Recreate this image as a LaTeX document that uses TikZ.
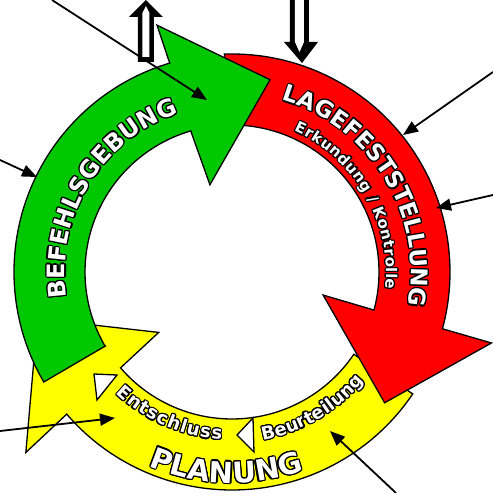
\documentclass[tikz,border=0pt]{standalone}
\usepackage{fontspec}
\newfontfamily\dvs{DejaVu Sans}
\usepackage{contour}
\contourlength{1.15pt}
\usetikzlibrary{decorations.text,arrows.meta}
\definecolor{rgreen}{RGB}{0,200,0}
\definecolor{rred}{RGB}{255,0,0}
\definecolor{ryellow}{RGB}{255,255,0}
\newcommand\outl[1]{\contour{black}{#1}}
\newcommand\txtbefehl{\dvs\bfseries\fontsize{24}{24}\selectfont}
\newcommand\txtlage{\dvs\bfseries\fontsize{23}{23}\selectfont}
\newcommand\txtplan{\dvs\bfseries\fontsize{29}{29}\selectfont}
\newcommand\txtmid{\dvs\bfseries\fontsize{18}{18}\selectfont}
\newcommand\txtsmall{\dvs\bfseries\fontsize{15}{15}\selectfont}
\newcommand\arctext[5]{\path[decorate,decoration={text effects along path,text={#1},
  text effects/.cd,fit text to path,character command=\outl,
  characters={text along path,text=white,font=#2}}]
  (#3:#5) arc[start angle=#3,end angle=#4,radius=#5];}
\begin{document}
\begin{tikzpicture}[x=1pt,y=1pt,
  band/.style={draw=black,line width=1.3pt,line join=miter},
  tri/.style={draw=black,fill=white,line width=1.3pt},
  ext/.style={line width=1.8pt,-{Triangle[length=15pt,width=12pt]}},
  hollowout/.style={fill=black},
  hollowin/.style={fill=white}]
\useasboundingbox (-232,-221) rectangle (261,272);
% yellow
\path[band,fill=ryellow] (-34:147) -- (-34:218) arc[start angle=-34,end angle=-139.3,radius=218]
  -- (221.2:274) -- (193.5:200) -- (219.5:95) -- (220.7:147)
  arc[start angle=220.7,end angle=326,radius=147] -- cycle;
% red
\path[band,fill=rred] (92:147) -- (92:218) arc[start angle=92,end angle=-15.1,radius=218]
  -- (-15.3:269) -- (-40.6:201) -- (-14.2:94) -- (-15:147)
  arc[start angle=-15,end angle=92,radius=147] -- cycle;
% green
\path[band,fill=rgreen] (210.3:146) -- (210.3:218) arc[start angle=210.3,end angle=106.6,radius=218]
  -- (106.9:258) -- (78.8:196) -- (104.2:90) -- (106.3:147)
  arc[start angle=106.3,end angle=210.3,radius=147] -- cycle;
% small white triangles
\path[tri] (-138,-102) -- (-115,-103) -- (-135,-128) -- cycle;
\path[tri] (5,-163) -- (21,-146) -- (22,-180) -- cycle;
% texts
\arctext{BEFEHLSGEBUNG}{\txtbefehl}{188.7}{108.6}{167}
\arctext{LAGEFESTSTELLUNG}{\txtlage}{73.8}{-10.8}{179}
\arctext{Erkundung / Kontrolle}{\txtsmall}{66.3}{-6.3}{154}
\arctext{PLANUNG}{\txtplan}{-113.3}{-70.1}{211}
\arctext{Entschluss}{\txtmid}{-133.7}{-93.5}{168}
\arctext{Beurteilung}{\txtmid}{-79.6}{-39.5}{171}
% external arrows
\coordinate (a1s) at (-180,272); \coordinate (a1e) at (-25,172);
\coordinate (a2s) at (-232,112); \coordinate (a2e) at (-195,95);
\coordinate (a3s) at (261,200);  \coordinate (a3e) at (171,137);
\coordinate (a4s) at (261,77);   \coordinate (a4e) at (204,64);
\coordinate (a5s) at (-232,-159); \coordinate (a5e) at (-117,-146);
\coordinate (a6s) at (164,-221); \coordinate (a6e) at (98,-159);
\draw[ext] (a1s) -- (a1e);
\draw[ext] (a2s) -- (a2e);
\draw[ext] (a3s) -- (a3e);
\draw[ext] (a4s) -- (a4e);
\draw[ext] (a5s) -- (a5e);
\draw[ext] (a6s) -- (a6e);
% hollow arrows
\path[hollowout] (-94,210) -- (-94,255) -- (-103,255) -- (-86,272) -- (-69,255) -- (-78,255) -- (-78,210) -- cycle;
\path[hollowin] (-89.5,215) -- (-89.5,259) -- (-86,266) -- (-82.5,259) -- (-82.5,215) -- cycle;
\path[hollowout] (58,273) -- (58,230) -- (52,230) -- (70,209) -- (86,230) -- (77,230) -- (77,273) -- cycle;
\path[hollowin] (63,273) -- (63,230) -- (67.5,220) -- (72,230) -- (72,273) -- cycle;
\end{tikzpicture}
\end{document}
